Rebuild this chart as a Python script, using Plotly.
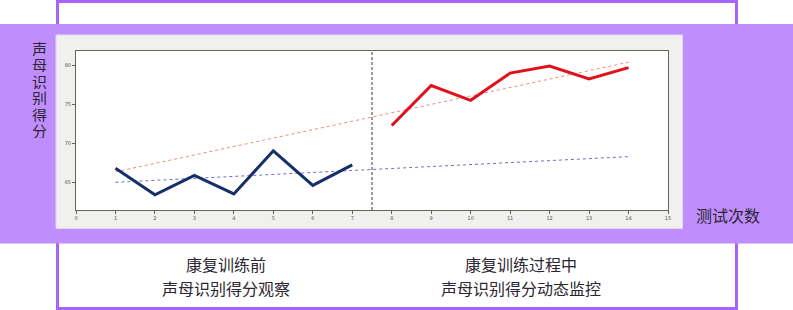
import plotly.graph_objects as go

# ---- data ----
before_x = [1, 2, 3, 4, 5, 6, 7]
before_y = [66.8, 63.4, 65.9, 63.5, 69.05, 64.6, 67.25]
during_x = [8, 9, 10, 11, 12, 13, 14]
during_y = [72.3, 77.45, 75.55, 79.05, 79.95, 78.3, 79.75]
red_trend_x = [1, 14]
red_trend_y = [66.35, 80.45]
blue_trend_x = [1, 14]
blue_trend_y = [65.0, 68.3]
split_x = 7.5
x_ticks = list(range(0, 16))
y_ticks = [65, 70, 75, 80]
y_label = "声母识别得分"
x_label = "测试次数"
left_caption = ["康复训练前", "声母识别得分观察"]
right_caption = ["康复训练过程中", "声母识别得分动态监控"]

W, H = 793, 310
ML, MR, MT, MB = 76, 125, 51, 100
PW, PH = W - ML - MR, H - MT - MB
FONT = "Noto Sans CJK SC"
TXT = "#2b2630"

fig = go.Figure()

fig.add_trace(go.Scatter(x=red_trend_x, y=red_trend_y, mode="lines",
                         line=dict(color="#f08a80", width=1, dash="dot"), hoverinfo="skip"))
fig.add_trace(go.Scatter(x=blue_trend_x, y=blue_trend_y, mode="lines",
                         line=dict(color="#6f70c0", width=1, dash="dot"), hoverinfo="skip"))
fig.add_trace(go.Scatter(x=before_x, y=before_y, mode="lines",
                         line=dict(color="#152f68", width=3)))
fig.add_trace(go.Scatter(x=during_x, y=during_y, mode="lines",
                         line=dict(color="#e0101c", width=3)))

def px_x(p):
    return (p - ML) / PW

def px_y(p):
    return (H - MB - p) / PH

shapes = [
    # outer purple frame
    dict(type="rect", xref="paper", yref="paper", x0=px_x(57.5), x1=px_x(736.5),
         y0=px_y(308.5), y1=px_y(1.5), line=dict(color="#a566f7", width=3),
         fillcolor="rgba(0,0,0,0)", layer="below"),
    # purple band
    dict(type="rect", xref="paper", yref="paper", x0=px_x(0), x1=px_x(W),
         y0=px_y(243.5), y1=px_y(24), line=dict(width=0),
         fillcolor="#bf8dfc", layer="below"),
    # gray panel
    dict(type="rect", xref="paper", yref="paper", x0=px_x(56), x1=px_x(682.5),
         y0=px_y(228.5), y1=px_y(35), line=dict(color="#e2d8f2", width=1),
         fillcolor="#f0f0ee", layer="below"),
    # white plot area
    dict(type="rect", xref="x domain", yref="y domain", x0=0, x1=1, y0=0, y1=1,
         line=dict(width=0), fillcolor="white", layer="below"),
    # split line
    dict(type="line", xref="x", yref="y domain", x0=split_x, x1=split_x, y0=0, y1=1,
         line=dict(color="#3a3a3a", width=1, dash="3px,2px"), layer="above"),
]

annotations = []
# vertical y label, stacked characters
for i, ch in enumerate(y_label):
    annotations.append(dict(text=ch, xref="paper", yref="paper",
                            x=px_x(39.5), y=px_y(48 + i * 16.4), showarrow=False,
                            font=dict(family=FONT, size=15, color=TXT),
                            xanchor="center", yanchor="middle", borderpad=0,
                            height=16))
annotations.append(dict(text=x_label, xref="paper", yref="paper",
                        x=px_x(728), y=px_y(215), showarrow=False,
                        font=dict(family=FONT, size=16, color=TXT),
                        xanchor="center", yanchor="middle"))
for j, t in enumerate(left_caption):
    annotations.append(dict(text=t, xref="paper", yref="paper",
                            x=px_x(226), y=px_y(264 + j * 23.5), showarrow=False,
                            font=dict(family=FONT, size=16, color=TXT),
                            xanchor="center", yanchor="middle"))
for j, t in enumerate(right_caption):
    annotations.append(dict(text=t, xref="paper", yref="paper",
                            x=px_x(521), y=px_y(264 + j * 23.5), showarrow=False,
                            font=dict(family=FONT, size=16, color=TXT),
                            xanchor="center", yanchor="middle"))

fig.update_layout(
    width=W, height=H,
    margin=dict(l=ML, r=MR, t=MT, b=MB),
    paper_bgcolor="white", plot_bgcolor="rgba(0,0,0,0)",
    showlegend=False,
    shapes=shapes, annotations=annotations,
    xaxis=dict(range=[0, 15], tickvals=x_ticks, showgrid=False, zeroline=False,
               showline=True, linecolor="#6a625a", linewidth=1, mirror=True,
               ticks="outside", ticklen=3, tickcolor="#6a625a",
               tickfont=dict(family="DejaVu Sans", size=5, color="#555555")),
    yaxis=dict(range=[61.44, 81.89], tickvals=y_ticks, showgrid=False, zeroline=False,
               showline=True, linecolor="#6a625a", linewidth=1, mirror=True,
               ticks="outside", ticklen=3, tickcolor="#6a625a",
               tickfont=dict(family="DejaVu Sans", size=5, color="#555555")),
)

fig.write_html("out.html", config={"displayModeBar": False},
               post_script="document.body.style.margin='0';document.body.style.overflow='hidden';")
